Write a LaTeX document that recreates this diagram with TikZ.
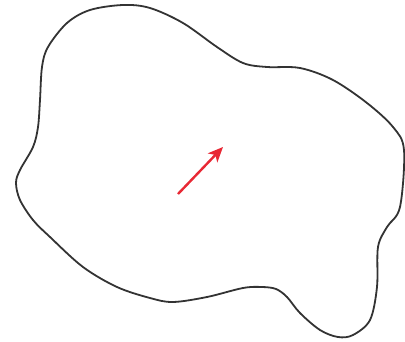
\documentclass[tikz,border=0pt]{standalone}
\usepackage{tikz}
\usetikzlibrary{arrows.meta,positioning}
\definecolor{arrowred}{RGB}{232,40,52}

\begin{document}
\begin{tikzpicture}[
  x=1pt, y=-1pt,
  outline/.style={draw=black!80, line width=1.8pt, line join=round},
  arrow/.style={-{Stealth[length=15pt,width=13pt,inset=4pt]}, draw=arrowred, line width=2.4pt, color=arrowred}
]
  \useasboundingbox (0,0) rectangle (405,341);
  % blob
  \draw[outline] plot[smooth cycle, tension=0.55] coordinates {
    (123,5) (150,8) (183,23) (217,47) (243,63) (267,67) (300,68) (333,80)
    (367,103) (393,127) (404,150) (400,207) (387,227) (378,247) (377,287)
    (370,320) (353,335) (338,337) (320,330) (300,313) (287,297) (276,289)
    (262,287) (243,288) (207,297) (173,302) (150,298) (117,287) (83,267)
    (50,237) (33,220) (20,200) (16,183) (20,170) (33,147) (38,127) (40,100)
    (42,67) (48,47) (67,23) (90,10)};
  % arrow
  \coordinate (tail) at (178,194);
  \coordinate (head) at (223,147);
  \draw[arrow] (tail) -- (head);
\end{tikzpicture}
\end{document}
